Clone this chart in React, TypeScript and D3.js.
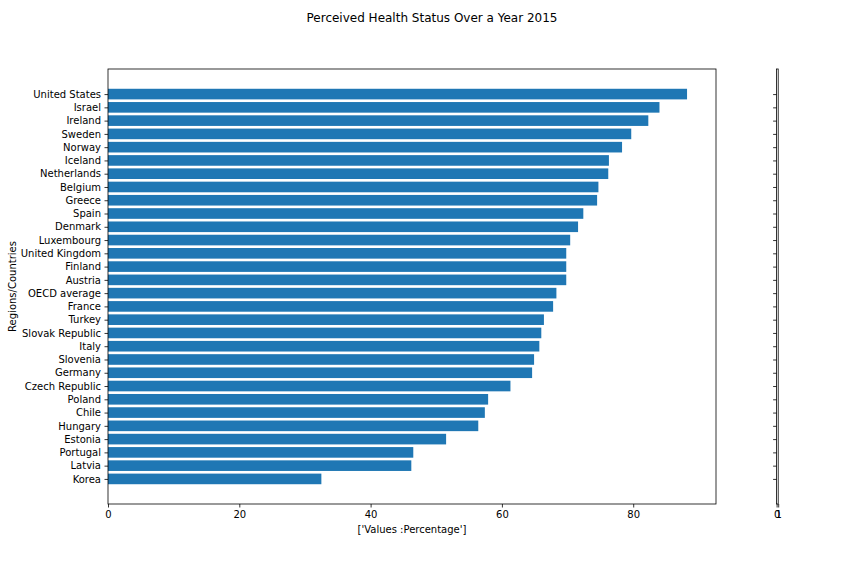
import React, { useEffect, useRef } from 'react'
import * as d3 from 'd3'

// countries, top to bottom as drawn
const countries = [
  'United States', 'Israel', 'Ireland', 'Sweden', 'Norway', 'Iceland', 'Netherlands',
  'Belgium', 'Greece', 'Spain', 'Denmark', 'Luxembourg', 'United Kingdom', 'Finland',
  'Austria', 'OECD average', 'France', 'Turkey', 'Slovak Republic', 'Italy', 'Slovenia',
  'Germany', 'Czech Republic', 'Poland', 'Chile', 'Hungary', 'Estonia', 'Portugal',
  'Latvia', 'Korea',
]
const values = [
  88.2, 84.0, 82.3, 79.7, 78.3, 76.3, 76.2,
  74.7, 74.5, 72.4, 71.6, 70.4, 69.8, 69.8,
  69.8, 68.3, 67.8, 66.4, 66.0, 65.7, 64.9,
  64.6, 61.3, 57.9, 57.4, 56.4, 51.5, 46.5,
  46.2, 32.5,
]
const xTicks = [0, 20, 40, 60, 80]
const sideTicks = [0, 1]

const title = 'Perceived Health Status Over a Year 2015'
const xLabel = "['Values :Percentage']"
const yLabel = 'Regions/Countries'

const W = 864
const H = 576
const font = 'DejaVu Sans, sans-serif'

const App: React.FC = () => {
  const svgRef = useRef<SVGSVGElement>(null)

  useEffect(() => {
    const svg = d3.select(svgRef.current)
    svg.selectAll('*').remove()

    const left = 108, right = 716, top = 69, bottom = 504
    const n = countries.length
    const xMax = d3.max(values)! * 1.05
    const x = d3.scaleLinear().domain([0, xMax]).range([left, right])
    // matplotlib barh: index 0 at bottom, height 0.8, 5% margins
    const lo = -0.4, hi = n - 1 + 0.4
    const pad = (hi - lo) * 0.05
    const y = d3.scaleLinear().domain([lo - pad, hi + pad]).range([bottom, top])
    const pos = (i: number) => n - 1 - i

    svg.append('text')
      .attr('x', W / 2).attr('y', 22)
      .attr('text-anchor', 'middle')
      .attr('font-family', font).attr('font-size', 12)
      .text(title)

    svg.append('g').selectAll('rect')
      .data(values)
      .enter()
      .append('rect')
      .attr('x', x(0))
      .attr('y', (d, i) => y(pos(i) + 0.4))
      .attr('width', (d) => x(d) - x(0))
      .attr('height', (d, i) => y(pos(i) - 0.4) - y(pos(i) + 0.4))
      .attr('fill', '#1f77b4')

    const xAxis = d3.axisBottom(x).tickValues(xTicks).tickSize(3.5).tickPadding(3.5)
      .tickFormat((d) => String(d))
    const gx = svg.append('g').attr('transform', `translate(0,${bottom})`).call(xAxis)
    gx.select('.domain').remove()

    const yAxis = d3.axisLeft(y).tickValues(d3.range(n)).tickSize(3.5).tickPadding(3.5)
      .tickFormat((d) => countries[n - 1 - (d as number)])
    const gy = svg.append('g').attr('transform', `translate(${left},0)`).call(yAxis)
    gy.select('.domain').remove()

    for (const g of [gx, gy]) {
      g.selectAll('text').attr('font-family', font).attr('font-size', 10).attr('fill', '#000')
      g.selectAll('line').attr('stroke', '#000').attr('stroke-width', 0.8)
    }

    svg.append('rect')
      .attr('x', left).attr('y', top)
      .attr('width', right - left).attr('height', bottom - top)
      .attr('fill', 'none').attr('stroke', '#000').attr('stroke-width', 0.8)

    svg.append('text')
      .attr('x', (left + right) / 2).attr('y', 533)
      .attr('text-anchor', 'middle')
      .attr('font-family', font).attr('font-size', 10)
      .text(xLabel)

    svg.append('text')
      .attr('transform', `translate(16,${(top + bottom) / 2}) rotate(-90)`)
      .attr('text-anchor', 'middle')
      .attr('font-family', font).attr('font-size', 10)
      .text(yLabel)

    // the thin empty side axes
    const sLeft = 776.6, sRight = 778.2
    const sx = d3.scaleLinear().domain([0, 1]).range([sLeft, sRight])
    const sxAxis = d3.axisBottom(sx).tickValues(sideTicks).tickSize(3.5).tickPadding(3.5)
      .tickFormat((d) => String(d))
    const gsx = svg.append('g').attr('transform', `translate(0,${bottom})`).call(sxAxis)
    gsx.select('.domain').remove()
    const syAxis = d3.axisLeft(y).tickValues(d3.range(n)).tickSize(3.5).tickFormat(() => '')
    const gsy = svg.append('g').attr('transform', `translate(${sLeft},0)`).call(syAxis)
    gsy.select('.domain').remove()
    for (const g of [gsx, gsy]) {
      g.selectAll('text').attr('font-family', font).attr('font-size', 10).attr('fill', '#000')
      g.selectAll('line').attr('stroke', '#000').attr('stroke-width', 0.8)
    }
    svg.append('rect')
      .attr('x', sLeft).attr('y', top)
      .attr('width', sRight - sLeft).attr('height', bottom - top)
      .attr('fill', 'none').attr('stroke', '#000').attr('stroke-width', 0.8)
  }, [])

  return (
    <div style={{ position: 'absolute', left: 0, top: 0, background: '#fff' }}>
      <svg ref={svgRef} width={W} height={H} />
    </div>
  )
}

export default App
